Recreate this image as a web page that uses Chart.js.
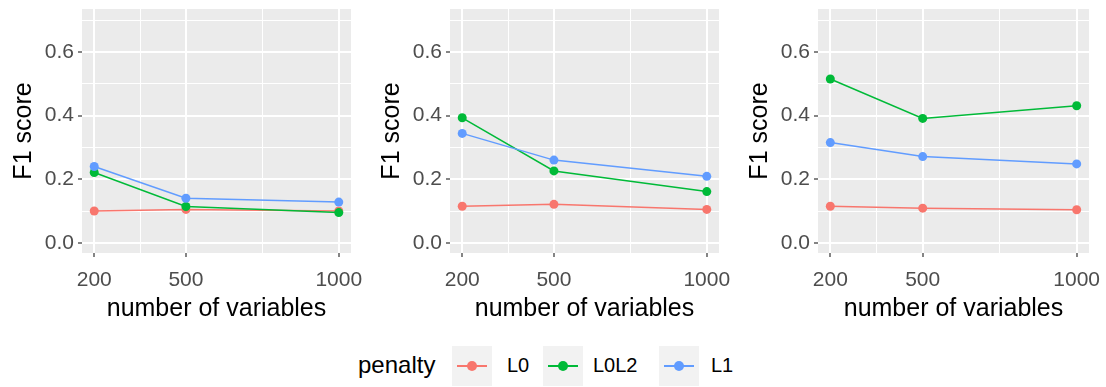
<!DOCTYPE html>
<html>
<head>
<meta charset="utf-8">
<script src="https://cdn.jsdelivr.net/npm/chart.js@4"></script>
<style>
  body { margin: 0; background: #fff; width: 1106px; height: 387px; overflow: hidden; position: relative; font-family: "Liberation Sans", Arial, sans-serif; }
  canvas { position: absolute; top: 0; }
  #legend { position: absolute; left: 0; top: 346px; height: 40px; }
  .lg-title { position: absolute; left: 358px; top: 4px; font-size: 24px; line-height: 30px; color: #000; }
  .lg-key { position: absolute; top: 0; width: 40px; height: 40px; background: #F2F2F2; }
  .lg-key .ln { position: absolute; left: 5px; top: 19px; width: 30px; height: 2px; }
  .lg-key .dt { position: absolute; left: 15px; top: 15px; width: 10px; height: 10px; border-radius: 50%; }
  .lg-lab { position: absolute; top: 6px; font-size: 20px; line-height: 26px; color: #000; }
</style>
</head>
<body>
<canvas id="p1" width="368" height="330" style="left:0px"></canvas>
<canvas id="p2" width="368" height="330" style="left:368px"></canvas>
<canvas id="p3" width="370" height="330" style="left:736px"></canvas>
<div id="legend"></div>
<script>
// ---- data ----
const nVars = [200, 500, 1000];
const penalties = ['L0', 'L0L2', 'L1'];
const colors = ['#F8766D', '#00BA38', '#619CFF'];

// panel 1
const p1_L0   = [0.100, 0.105, 0.100];
const p1_L0L2 = [0.221, 0.114, 0.095];
const p1_L1   = [0.240, 0.140, 0.128];
// panel 2
const p2_L0   = [0.115, 0.121, 0.105];
const p2_L0L2 = [0.393, 0.226, 0.161];
const p2_L1   = [0.344, 0.260, 0.209];
// panel 3
const p3_L0   = [0.115, 0.109, 0.104];
const p3_L0L2 = [0.515, 0.391, 0.431];
const p3_L1   = [0.315, 0.271, 0.248];

const xTicks = [200, 350, 500, 750, 1000];
const xLabeled = [200, 500, 1000];
const yTicks = [0, 0.1, 0.2, 0.3, 0.4, 0.5, 0.6, 0.7];
const yLabeled = [0, 0.2, 0.4, 0.6];

const FONT = '"Liberation Sans", Arial, sans-serif';

//----PLUGINS----
const panelBg = {
  id: 'panelBg',
  beforeDraw(chart) {
    const { ctx, chartArea: { top, bottom, left, right } } = chart;
    ctx.save();
    ctx.fillStyle = '#EBEBEB';
    ctx.fillRect(left, top, right - left, bottom - top);
    ctx.restore();
  }
};

function isMajor(list, v) {
  return list.some(m => Math.abs(m - v) < 1e-9);
}

function makeChart(id, series) {
  const datasets = series.map((vals, i) => ({
    label: penalties[i],
    data: vals.map((v, k) => ({ x: nVars[k], y: v })),
    borderColor: colors[i],
    backgroundColor: colors[i],
    borderWidth: 1.5,
    pointRadius: 4.5,
    pointBorderWidth: 0,
    pointBackgroundColor: colors[i],
    order: 3 - i
  }));

  return new Chart(document.getElementById(id), {
    type: 'line',
    data: { datasets },
    options: {
      responsive: false,
      animation: false,
      devicePixelRatio: 1,
      layout: { padding: { top: 9, right: 17, left: 0, bottom: 0 } },
      plugins: { legend: { display: false }, tooltip: { enabled: false } },
      scales: {
        x: {
          type: 'linear',
          min: 160,
          max: 1040,
          afterBuildTicks: s => { s.ticks = xTicks.map(v => ({ value: v })); },
          afterFit: s => { s.height = 77; s.paddingLeft = 0; s.paddingRight = 0; },
          border: { display: false },
          grid: {
            color: '#FFFFFF',
            lineWidth: c => isMajor(xLabeled, c.tick.value) ? 2 : 1,
            tickColor: c => isMajor(xLabeled, c.tick.value) ? '#333333' : 'rgba(0,0,0,0)',
            tickLength: 4,
            tickWidth: 1.2
          },
          ticks: {
            autoSkip: false,
            maxRotation: 0,
            padding: 11,
            color: '#4D4D4D',
            font: { family: FONT, size: 21 },
            callback: v => isMajor(xLabeled, v) ? String(v) : ''
          },
          title: {
            display: true,
            text: 'number of variables',
            color: '#000000',
            font: { family: FONT, size: 25, lineHeight: 1.2 },
            padding: { top: 0, bottom: 6 }
          }
        },
        y: {
          type: 'linear',
          min: -0.032,
          max: 0.735,
          afterBuildTicks: s => { s.ticks = yTicks.map(v => ({ value: v })); },
          afterFit: s => { s.width = 82; s.paddingTop = 0; s.paddingBottom = 0; },
          border: { display: false },
          grid: {
            color: '#FFFFFF',
            lineWidth: c => isMajor(yLabeled, c.tick.value) ? 2 : 1,
            tickColor: c => isMajor(yLabeled, c.tick.value) ? '#333333' : 'rgba(0,0,0,0)',
            tickLength: 4,
            tickWidth: 1.2
          },
          ticks: {
            autoSkip: false,
            padding: 4,
            color: '#4D4D4D',
            font: { family: FONT, size: 21 },
            callback: v => isMajor(yLabeled, v) ? v.toFixed(1) : ''
          },
          title: {
            display: true,
            text: 'F1 score',
            color: '#000000',
            font: { family: FONT, size: 25, lineHeight: 1.2 },
            padding: { top: 9, bottom: 0 }
          }
        }
      }
    },
    plugins: [panelBg]
  });
}

makeChart('p1', [p1_L0, p1_L0L2, p1_L1]);
makeChart('p2', [p2_L0, p2_L0L2, p2_L1]);
makeChart('p3', [p3_L0, p3_L0L2, p3_L1]);

// ---- legend (html) ----
const legend = document.getElementById('legend');
const keyX = [452, 543, 659];
const labX = [507, 593, 711];
legend.innerHTML = '<div class="lg-title">penalty</div>' + penalties.map((p, i) =>
  '<div class="lg-key" style="left:' + keyX[i] + 'px"><div class="ln" style="background:' + colors[i] + '"></div>' +
  '<div class="dt" style="background:' + colors[i] + '"></div></div>' +
  '<div class="lg-lab" style="left:' + labX[i] + 'px">' + p + '</div>'
).join('');
</script>
</body>
</html>
